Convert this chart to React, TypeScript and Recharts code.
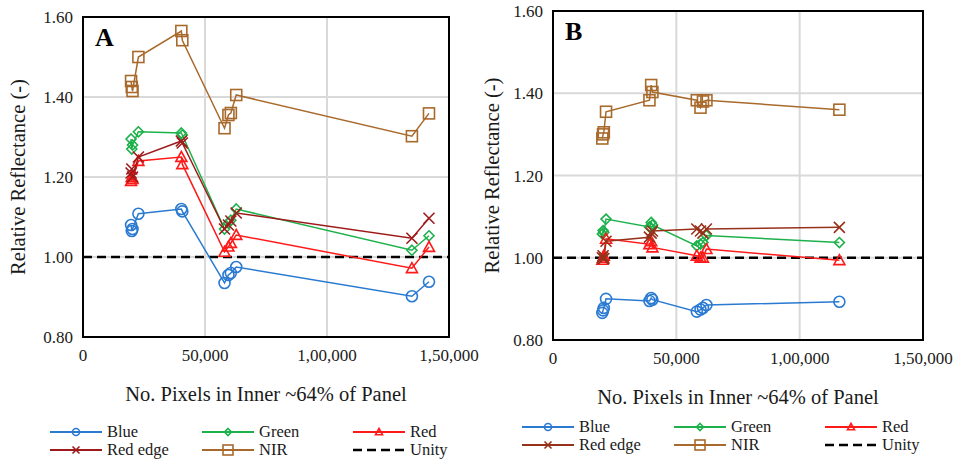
import React from "react";
import {
  CartesianGrid,
  Line,
  LineChart,
  ReferenceArea,
  ReferenceLine,
  XAxis,
  YAxis,
} from "recharts";

const FONT = "'Liberation Serif', Tinos, 'DejaVu Serif', serif";
const INK = "#1a1a1a";

// Panel A: pixel counts and relative reflectance per band
const pixelsA = [19700, 20000, 20300, 22700, 40300, 40700, 58000, 59600, 60600, 62800, 134800, 141800];
const blueA = [1.08, 1.065, 1.07, 1.108, 1.12, 1.114, 0.935, 0.955, 0.96, 0.975, 0.902, 0.938];
const greenA = [1.295, 1.27, 1.28, 1.313, 1.31, 1.305, 1.07, 1.085, 1.092, 1.12, 1.017, 1.053];
const redA = [1.19, 1.2, 1.195, 1.24, 1.25, 1.232, 1.013, 1.026, 1.035, 1.055, 0.972, 1.025];
const redEdgeA = [1.21, 1.22, 1.2, 1.25, 1.29, 1.285, 1.07, 1.08, 1.09, 1.11, 1.047, 1.097];
const nirA = [1.44, 1.425, 1.415, 1.5, 1.565, 1.542, 1.322, 1.355, 1.36, 1.405, 1.302, 1.359];

// Panel B
const pixelsB = [20000, 20300, 20600, 21500, 39100, 39800, 40300, 58300, 59800, 60800, 62200, 116100];
const blueB = [0.866, 0.872, 0.878, 0.9, 0.895, 0.902, 0.898, 0.869, 0.874, 0.878, 0.885, 0.893];
const greenB = [1.058, 1.066, 1.062, 1.094, 1.075, 1.086, 1.08, 1.029, 1.033, 1.037, 1.054, 1.037];
const redB = [0.995, 1.0, 1.005, 1.046, 1.033, 1.04, 1.025, 1.005, 1.0, 1.0, 1.021, 0.994];
const redEdgeB = [1.0, 1.005, 0.998, 1.04, 1.05, 1.06, 1.065, 1.07, 1.065, 1.06, 1.07, 1.074];
const nirB = [1.29, 1.3, 1.305, 1.355, 1.383, 1.42, 1.403, 1.383, 1.365, 1.38, 1.383, 1.36];

const xTicks = [0, 50000, 100000, 150000];
const xTickLabels = ["0", "50,000", "1,00,000", "1,50,000"];
const yTicks = [0.8, 1.0, 1.2, 1.4, 1.6];
const unity = 1.0;

type MarkerKind = "circle" | "diamond" | "triangle" | "cross" | "square";

interface Series {
  key: string;
  name: string;
  color: string;
  marker: MarkerKind;
}

function makeSeries(redEdgeColor: string): Series[] {
  return [
    { key: "blue", name: "Blue", color: "#2a7ad2", marker: "circle" },
    { key: "green", name: "Green", color: "#1db14b", marker: "diamond" },
    { key: "red", name: "Red", color: "#ff1a1a", marker: "triangle" },
    { key: "redEdge", name: "Red edge", color: redEdgeColor, marker: "cross" },
    { key: "nir", name: "NIR", color: "#a86a2c", marker: "square" },
  ];
}

function buildRows(
  xs: number[],
  blue: number[],
  green: number[],
  red: number[],
  redEdge: number[],
  nir: number[],
) {
  return xs.map((x, i) => ({
    x,
    blue: blue[i],
    green: green[i],
    red: red[i],
    redEdge: redEdge[i],
    nir: nir[i],
  }));
}

function Marker({
  kind,
  cx,
  cy,
  color,
  size,
  sw = 1.6,
}: {
  kind: MarkerKind;
  cx: number;
  cy: number;
  color: string;
  size: number;
  sw?: number;
}) {
  const s = size / 2;
  const common = { fill: "none", stroke: color, strokeWidth: sw };
  switch (kind) {
    case "circle":
      return <circle cx={cx} cy={cy} r={s} {...common} />;
    case "diamond":
      return (
        <polygon
          points={`${cx},${cy - s} ${cx + s},${cy} ${cx},${cy + s} ${cx - s},${cy}`}
          {...common}
        />
      );
    case "triangle":
      return (
        <polygon
          points={`${cx},${cy - s} ${cx + s},${cy + s * 0.8} ${cx - s},${cy + s * 0.8}`}
          {...common}
        />
      );
    case "cross":
      return (
        <path
          d={`M${cx - s},${cy - s}L${cx + s},${cy + s}M${cx + s},${cy - s}L${cx - s},${cy + s}`}
          {...common}
        />
      );
    default:
      return <rect x={cx - s} y={cy - s} width={size} height={size} {...common} />;
  }
}

interface PanelProps {
  letter: string;
  rows: ReturnType<typeof buildRows>;
  series: Series[];
  left: number;
  width: number;
  top: number;
  bottom: number;
  right: number;
  yTitleOffset: number;
}

function Panel({ letter, rows, series, left, width, top, bottom, right, yTitleOffset }: PanelProps) {
  const tickStyle = { fill: INK, fontSize: 17, fontFamily: FONT };
  return (
    <div style={{ position: "absolute", left, top: 0, width, height: 459 }}>
      <LineChart
        width={width}
        height={459}
        data={rows}
        margin={{ top, right, bottom, left: 0 }}
      >
        <CartesianGrid stroke="#d9d9d9" strokeWidth={2} />
        <XAxis
          type="number"
          dataKey="x"
          domain={[0, 150000]}
          ticks={xTicks}
          tickFormatter={(v: number) => xTickLabels[xTicks.indexOf(v)]}
          axisLine={false}
          tickLine={false}
          tickSize={0}
          tickMargin={12}
          height={70}
          tick={tickStyle}
          label={{
            value: "No. Pixels in Inner ~64% of Panel",
            position: "insideBottom",
            offset: 6,
            style: { fill: INK, fontSize: 20.5, fontFamily: FONT },
          }}
        />
        <YAxis
          type="number"
          domain={[0.8, 1.6]}
          ticks={yTicks}
          tickFormatter={(v: number) => v.toFixed(2)}
          axisLine={false}
          tickLine={false}
          tickSize={0}
          tickMargin={10}
          width={83}
          tick={tickStyle}
          label={{
            value: "Relative Reflectance (-)",
            angle: -90,
            position: "insideLeft",
            offset: yTitleOffset,
            style: { fill: INK, fontSize: 20.5, fontFamily: FONT, textAnchor: "middle" },
          }}
        />
        <ReferenceArea
          x1={0}
          x2={150000}
          y1={0.8}
          y2={1.6}
          fill="none"
          stroke="#000"
          strokeWidth={2}
          ifOverflow="visible"
        />
        <ReferenceLine y={unity} stroke="#000" strokeWidth={2.5} strokeDasharray="9 5" />
        {series.map((s) => (
          <Line
            key={s.key}
            dataKey={s.key}
            name={s.name}
            type="linear"
            stroke={s.color}
            strokeWidth={1.5}
            isAnimationActive={false}
            dot={(p: { cx?: number; cy?: number; index?: number }) => (
              <Marker
                key={`${s.key}-${p.index}`}
                kind={s.marker}
                cx={p.cx ?? 0}
                cy={p.cy ?? 0}
                color={s.color}
                size={s.marker === "diamond" ? 10 : 11}
              />
            )}
            activeDot={false}
          />
        ))}
      </LineChart>
      <div
        style={{
          position: "absolute",
          left: 95,
          top: top + 8,
          fontFamily: FONT,
          fontWeight: "bold",
          fontSize: 26,
          color: "#000",
          lineHeight: 1,
        }}
      >
        {letter}
      </div>
    </div>
  );
}

function LegendBlock({
  series,
  left,
  row1,
  row2,
}: {
  series: Series[];
  left: number;
  row1: number;
  row2: number;
}) {
  const cols = [0, 152, 303];
  // row order: Blue, Green, Red / Red edge, NIR, Unity
  const items = [
    ...series.map((s) => ({ name: s.name, color: s.color, marker: s.marker as MarkerKind | null, dashed: false })),
    { name: "Unity", color: "#000", marker: null, dashed: true },
  ];
  return (
    <svg style={{ position: "absolute", left, top: 0 }} width={470} height={459}>
      {items.map((it, i) => {
        const x0 = cols[i % 3];
        const y = i < 3 ? row1 : row2;
        return (
          <g key={it.name}>
            <line
              x1={x0}
              x2={x0 + 52}
              y1={y}
              y2={y}
              stroke={it.color}
              strokeWidth={it.dashed ? 2.5 : 2}
              strokeDasharray={it.dashed ? "9 5" : undefined}
            />
            {it.marker && (
              <Marker
                kind={it.marker}
                cx={x0 + 26}
                cy={y}
                color={it.color}
                size={it.marker === "square" ? 10 : 7}
                sw={1.6}
              />
            )}
            <text x={x0 + 57} y={y} dy="0.33em" fontSize={16.5} fontFamily={FONT} fill={INK}>
              {it.name}
            </text>
          </g>
        );
      })}
    </svg>
  );
}

export default function App() {
  const seriesA = makeSeries("#9e1a1a");
  const seriesB = makeSeries("#97321a");
  const rowsA = buildRows(pixelsA, blueA, greenA, redA, redEdgeA, nirA);
  const rowsB = buildRows(pixelsB, blueB, greenB, redB, redEdgeB, nirB);
  return (
    <div
      style={{
        position: "absolute",
        left: 0,
        top: 0,
        width: 953,
        height: 459,
        background: "#fff",
        overflow: "hidden",
      }}
    >
      <Panel
        letter="A"
        rows={rowsA}
        series={seriesA}
        left={0}
        width={480}
        top={17}
        bottom={52}
        right={31}
        yTitleOffset={18}
      />
      <Panel
        letter="B"
        rows={rowsB}
        series={seriesB}
        left={470}
        width={483}
        top={11}
        bottom={49}
        right={30}
        yTitleOffset={22}
      />
      <LegendBlock series={seriesA} left={50} row1={432} row2={450} />
      <LegendBlock series={seriesB} left={522} row1={427} row2={445} />
    </div>
  );
}
